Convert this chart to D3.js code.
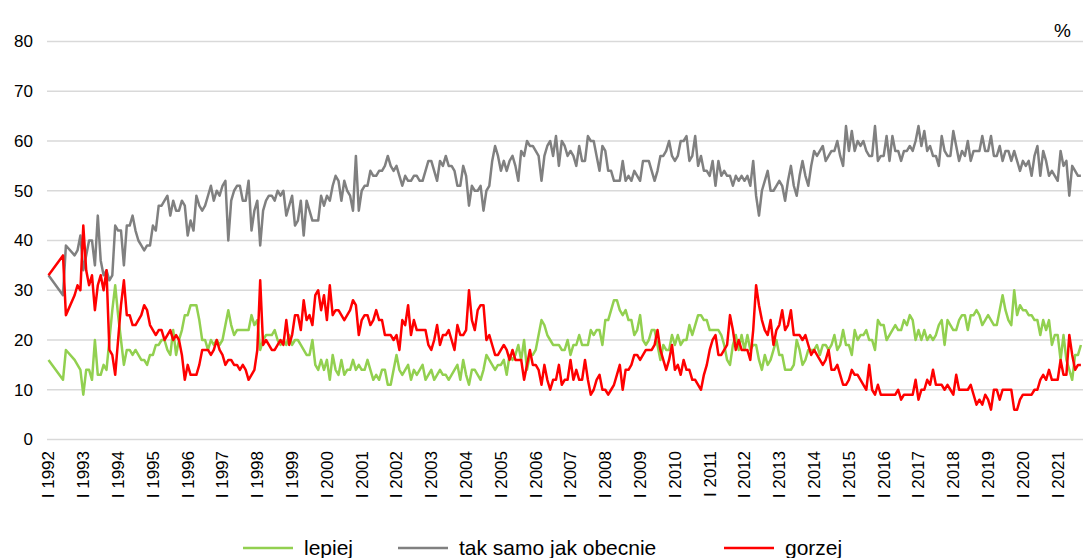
<!DOCTYPE html>
<html>
<head>
<meta charset="utf-8">
<script src="https://cdn.jsdelivr.net/npm/d3@7"></script>
<style>
  body { margin: 0; background: #fff; }
  svg { display: block; font-family: "Liberation Sans", Arial, sans-serif; }
</style>
</head>
<body>
<svg width="1086" height="558"></svg>
<script>
// monthly values from I 1992 (index 0); null = no survey that month
var lepiej = [
  16,null,null,null,null,12,18,null,null,16,15,14,
  9,14,14,12,20,13,13,15,14,20,26,31,
  25,20,15,18,18,17,18,17,16,16,15,17,
  17,19,19,20,20,18,17,22,17,20,22,25,
  25,27,27,27,24,20,20,18,20,19,20,19,
  20,23,26,23,21,22,22,22,22,22,25,23,
  24,18,20,21,21,21,22,20,19,20,19,21,
  19,20,20,19,18,17,17,20,15,14,16,14,
  16,12,17,14,13,16,13,14,14,16,14,15,
  14,14,16,14,12,13,12,14,14,11,11,14,
  17,14,13,14,15,12,14,13,14,15,12,13,
  14,12,13,14,13,13,12,13,14,15,12,16,
  13,11,14,14,13,12,14,17,16,15,14,15,
  15,16,13,17,16,17,19,16,20,14,17,17,
  18,21,24,23,21,20,19,19,19,18,18,20,
  17,19,19,21,19,19,19,22,21,22,22,19,
  24,24,26,28,28,26,25,26,24,24,21,22,
  25,20,19,20,22,22,19,16,19,18,18,21,
  19,21,19,20,20,23,21,23,25,25,24,24,
  22,22,22,22,21,19,16,15,19,21,18,21,
  18,21,18,19,19,16,14,17,15,16,18,20,
  17,17,14,14,14,15,20,18,15,16,18,18,
  18,19,17,19,19,18,19,21,18,19,22,19,
  19,17,22,20,21,21,22,20,20,18,24,23,
  23,20,21,22,23,22,22,24,23,25,24,20,
  22,20,22,20,21,20,21,23,24,19,24,23,
  22,22,24,25,25,22,25,25,26,25,23,24,
  25,24,23,23,26,29,26,24,23,30,25,27,
  26,26,25,25,24,24,21,24,22,24,19,21,
  21,16,21,16,14,12,17,17,19
];

var takSamo = [
  33,null,null,null,null,29,39,null,null,37,38,41,
  34,null,40,40,35,45,36,33,34,32,33,43,
  42,42,35,43,43,45,42,40,39,38,39,39,
  43,42,47,47,48,49,45,48,46,46,48,47,
  41,44,42,49,47,46,47,49,51,48,50,49,
  51,52,40,48,50,51,51,48,48,52,42,46,
  48,39,46,48,49,49,48,50,49,50,45,47,
  49,43,44,48,41,48,46,44,44,44,49,47,
  49,48,51,53,52,48,52,50,49,46,57,46,
  50,51,51,54,53,53,54,54,55,57,55,54,
  55,53,51,53,52,52,53,53,52,52,54,56,
  56,54,52,56,55,57,55,55,54,51,51,55,
  53,47,51,50,50,51,46,50,51,56,59,57,
  54,56,54,56,57,55,52,58,57,60,59,59,
  58,57,52,57,59,60,57,61,55,60,59,57,
  58,57,55,59,56,56,61,60,60,57,54,59,
  58,54,54,52,52,52,56,52,53,52,54,53,
  52,56,56,56,54,52,54,57,57,58,60,57,
  56,57,60,60,61,56,57,61,55,57,54,54,
  53,56,51,56,53,54,53,53,51,53,52,53,
  52,53,51,56,49,45,50,52,54,50,50,51,
  52,51,48,52,55,51,49,53,56,53,51,55,
  58,57,58,59,56,57,58,58,60,57,55,63,
  58,62,58,60,59,60,58,57,57,63,56,57,
  57,61,56,61,58,58,56,58,58,59,58,60,
  63,59,62,58,59,57,57,55,61,58,57,57,
  62,59,56,58,57,60,56,58,58,58,61,58,
  58,61,57,57,59,56,58,58,56,58,56,54,
  56,55,56,53,57,59,53,58,56,53,54,53,
  52,58,55,56,49,55,54,53,53
];

var gorzej = [
  33,null,null,null,null,37,25,null,null,29,31,30,
  43,34,31,33,26,31,33,30,34,18,17,13,
  20,27,32,25,25,23,23,24,25,27,26,23,
  22,21,22,22,20,21,22,20,21,20,17,12,
  15,13,13,13,15,18,18,18,17,18,20,18,
  17,15,16,16,15,15,14,15,14,12,13,14,
  18,32,19,20,19,18,18,19,20,19,24,19,
  21,25,25,22,28,24,25,23,29,30,26,29,
  24,31,25,26,26,25,24,25,26,28,27,21,
  24,25,25,23,24,26,24,24,21,21,21,20,
  21,18,24,23,27,21,24,22,22,22,22,19,
  18,20,23,19,21,21,22,20,18,23,21,21,
  22,30,24,22,26,27,27,20,21,19,17,17,
  18,19,18,16,18,16,16,16,12,15,18,15,
  15,14,11,15,12,10,12,12,15,11,12,12,
  16,12,14,12,12,16,12,9,10,12,13,10,
  10,9,10,11,13,15,10,14,14,15,17,17,
  16,17,18,18,18,19,22,18,16,14,16,19,
  14,15,13,16,14,14,12,12,11,10,13,15,
  18,20,21,17,17,18,19,25,22,18,20,18,
  18,18,16,22,31,27,24,22,21,24,19,22,
  23,26,22,23,26,21,21,21,20,21,19,17,
  18,17,16,15,16,18,14,14,15,13,11,11,
  12,14,13,13,12,11,10,15,10,9,11,9,
  9,9,9,9,9,10,8,9,9,9,9,12,
  8,10,10,12,11,14,11,11,11,10,11,10,
  9,13,10,10,10,10,11,9,7,8,7,9,
  8,6,10,10,8,10,10,10,10,6,6,8,
  9,9,9,9,10,10,12,13,12,14,12,12,
  12,16,13,13,21,17,14,15,15
];

var years = [1992,1993,1994,1995,1996,1997,1998,1999,2000,2001,2002,2003,2004,2005,2006,
             2007,2008,2009,2010,2011,2012,2013,2014,2015,2016,2017,2018,2019,2020,2021];
var yTicks = [0,10,20,30,40,50,60,70,80];

var series = [
  {name: "lepiej", values: lepiej, color: "#92d050"},
  {name: "tak samo jak obecnie", values: takSamo, color: "#808080"},
  {name: "gorzej", values: gorzej, color: "#ff0000"}
];

var svg = d3.select("svg");

var x = d3.scaleLinear().domain([0, 356]).range([48.5, 48.5 + 356 * 2.9]);
var y = d3.scaleLinear().domain([0, 80]).range([439.5, 41.5]);

// gridlines
svg.append("g").selectAll("line")
    .data(yTicks)
    .enter().append("line")
    .attr("x1", 47).attr("x2", 1083)
    .attr("y1", function(d) { return y(d); })
    .attr("y2", function(d) { return y(d); })
    .attr("stroke", "#d9d9d9")
    .attr("stroke-width", 1.5);

// y labels
svg.append("g").selectAll("text")
    .data(yTicks)
    .enter().append("text")
    .attr("x", 33)
    .attr("y", function(d) { return y(d); })
    .attr("dy", "0.35em")
    .attr("text-anchor", "end")
    .style("font-size", "17px")
    .attr("fill", "#000")
    .text(function(d) { return d; });

// x labels, one per January
svg.append("g").selectAll("text")
    .data(years)
    .enter().append("text")
    .attr("transform", function(d) {
        return "translate(" + x((d - 1992) * 12) + ",451) rotate(-90)";
    })
    .attr("dy", "0.35em")
    .attr("text-anchor", "end")
    .style("font-size", "17px")
    .attr("fill", "#000")
    .text(function(d) { return "I " + d; });

svg.append("text")
    .attr("x", 1071).attr("y", 37)
    .attr("text-anchor", "end")
    .style("font-size", "19px")
    .text("%");

var line = d3.line()
    .x(function(d) { return x(d.i); })
    .y(function(d) { return y(d.v); });

series.forEach(function(s) {
    var pts = [];
    s.values.forEach(function(v, i) {
        if (v !== null) pts.push({i: i, v: v});
    });
    svg.append("path")
        .datum(pts)
        .attr("fill", "none")
        .attr("stroke", s.color)
        .attr("stroke-width", 2.5)
        .attr("stroke-linejoin", "round")
        .attr("d", line);
});

// legend
var legendX = [243, 398, 724];
var legend = svg.append("g").selectAll("g")
    .data(series)
    .enter().append("g")
    .attr("transform", function(d, i) { return "translate(" + legendX[i] + ",0)"; });

legend.append("line")
    .attr("x1", 0).attr("x2", 50)
    .attr("y1", 548).attr("y2", 548)
    .attr("stroke", function(d) { return d.color; })
    .attr("stroke-width", 2.5);

legend.append("text")
    .attr("x", 61).attr("y", 555)
    .style("font-size", "21px")
    .text(function(d) { return d.name; });
</script>
</body>
</html>
